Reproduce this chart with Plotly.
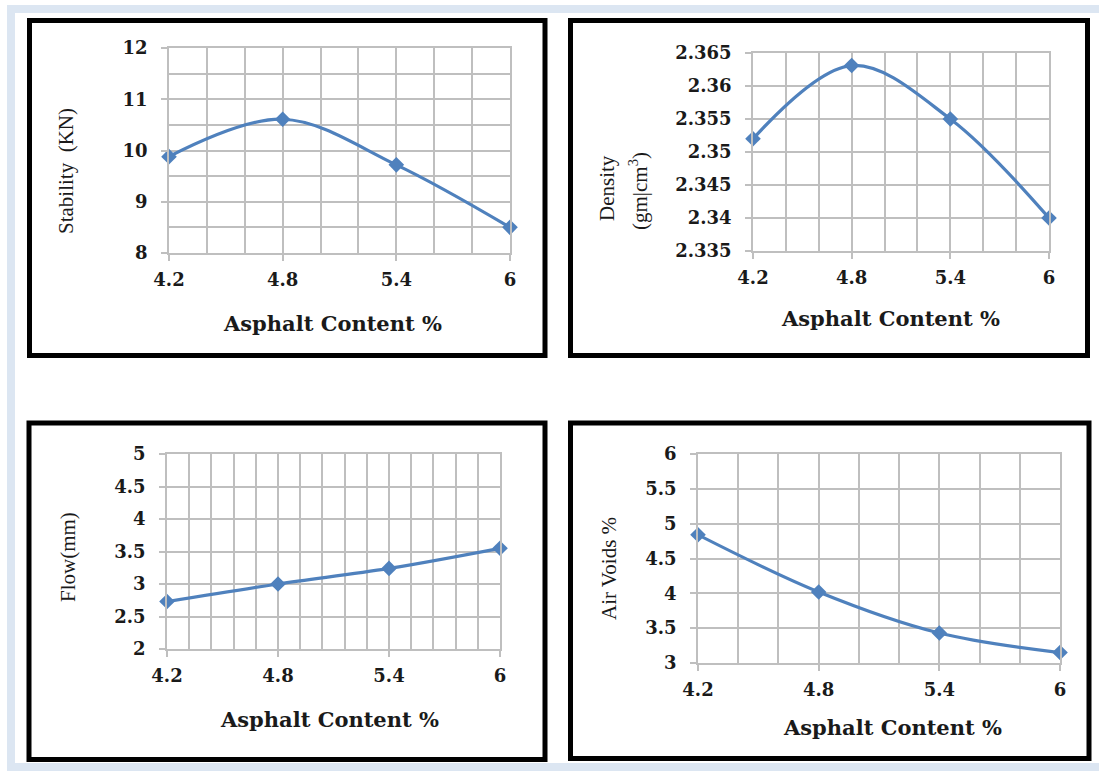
import plotly.graph_objects as go

# ---------------- data ----------------
asphalt = [4.2, 4.8, 5.4, 6.0]
x_tick_vals = [4.2, 4.8, 5.4, 6.0]
x_tick_text = ["4.2", "4.8", "5.4", "6"]

stability = [9.88, 10.61, 9.72, 8.50]
stab_ticks = [8, 9, 10, 11, 12]
stab_text = ["8", "9", "10", "11", "12"]

density = [2.352, 2.3631, 2.355, 2.340]
dens_ticks = [2.335, 2.34, 2.345, 2.35, 2.355, 2.36, 2.365]
dens_text = ["2.335", "2.34", "2.345", "2.35", "2.355", "2.36", "2.365"]

flow = [2.73, 3.00, 3.24, 3.55]
flow_ticks = [2, 2.5, 3, 3.5, 4, 4.5, 5]
flow_text = ["2", "2.5", "3", "3.5", "4", "4.5", "5"]

air_voids = [4.84, 4.02, 3.43, 3.15]
av_ticks = [3, 3.5, 4, 4.5, 5, 5.5, 6]
av_text = ["3", "3.5", "4", "4.5", "5", "5.5", "6"]

x_title = "Asphalt Content %"

# ---------------- styling ----------------
W, H = 1099, 771
LINE = "#4f81bd"
GRID = "#bfbfbf"
TXT = "#1a1a1a"
TICKFONT = dict(family="DejaVu Serif", size=18, color=TXT, weight="bold")


def px(x):
    return x / W


def py(y):
    return 1 - y / H


def xaxis(x0, x1, y0, y1, anchor, minor_dtick):
    return dict(
        domain=[px(x0), px(x1)], anchor=anchor, range=[4.2, 6.0],
        tickmode="array", tickvals=x_tick_vals, ticktext=x_tick_text,
        ticks="outside", ticklen=6, tickwidth=1.5, tickcolor=GRID,
        showgrid=True, gridcolor=GRID, gridwidth=1.5,
        showline=True, linecolor=GRID, linewidth=1.5, mirror=True,
        zeroline=False, tickfont=TICKFONT, ticklabelstandoff=4,
        automargin=False,
        minor=dict(tickmode="linear", tick0=4.2, dtick=minor_dtick,
                   showgrid=True, gridcolor=GRID, gridwidth=1.5, ticks=""),
        fixedrange=True,
    )


def yaxis(y0, y1, anchor, rng, vals, text, minor_dtick=None):
    d = dict(
        domain=[py(y1), py(y0)], anchor=anchor, range=rng,
        tickmode="array", tickvals=vals, ticktext=text,
        ticks="outside", ticklen=6, tickwidth=1.5, tickcolor=GRID,
        showgrid=True, gridcolor=GRID, gridwidth=1.5,
        showline=True, linecolor=GRID, linewidth=1.5, mirror=True,
        zeroline=False, tickfont=TICKFONT, ticklabelstandoff=10,
        automargin=False, fixedrange=True,
    )
    if minor_dtick:
        d["minor"] = dict(tickmode="linear", tick0=rng[0], dtick=minor_dtick,
                          showgrid=True, gridcolor=GRID, gridwidth=1.5, ticks="")
    return d


fig = go.Figure()

series = [(stability, "x", "y"), (density, "x2", "y2"),
          (flow, "x3", "y3"), (air_voids, "x4", "y4")]
for vals, xa, ya in series:
    fig.add_trace(go.Scatter(
        x=asphalt, y=vals, xaxis=xa, yaxis=ya, mode="lines+markers",
        line=dict(color=LINE, width=3.2, shape="spline", smoothing=1),
        marker=dict(symbol="diamond", size=12, color=LINE),
        cliponaxis=False, showlegend=False, hoverinfo="x+y",
    ))

# panel plot areas (pixel coords)
P1 = (169, 510, 48, 253)
P2 = (753, 1049, 53, 251)
P3 = (167, 500, 454, 649)
P4 = (698, 1060, 454, 663)

layout = dict(
    template="none",
    width=W, height=H,
    margin=dict(l=0, r=0, t=0, b=0, pad=0, autoexpand=False),
    paper_bgcolor="white", plot_bgcolor="rgba(0,0,0,0)",
    xaxis=xaxis(*P1, "y", 0.2),
    yaxis=yaxis(P1[2], P1[3], "x", [8, 12], stab_ticks, stab_text, 0.5),
    xaxis2=xaxis(*P2, "y2", 0.2),
    yaxis2=yaxis(P2[2], P2[3], "x2", [2.335, 2.365], dens_ticks, dens_text),
    xaxis3=xaxis(*P3, "y3", 0.12),
    yaxis3=yaxis(P3[2], P3[3], "x3", [2, 5], flow_ticks, flow_text),
    xaxis4=xaxis(*P4, "y4", 0.2),
    yaxis4=yaxis(P4[2], P4[3], "x4", [3, 6], av_ticks, av_text),
)
fig.update_layout(**layout)

# background frame + panel boxes
shapes = [
    dict(type="rect", xref="paper", yref="paper", x0=px(7), x1=px(W), y0=py(771), y1=py(5),
         fillcolor="#dce6f2", line=dict(width=0), layer="below"),
    dict(type="rect", xref="paper", yref="paper", x0=px(15), x1=px(W), y0=py(763), y1=py(13),
         fillcolor="white", line=dict(width=0), layer="below"),
]
boxes = [(29.5, 545, 20.5, 355.5), (570.5, 1087.5, 20.5, 355.5),
         (29, 545, 423, 759.5), (570.5, 1089, 423, 758.5)]
for x0, x1, y0, y1 in boxes:
    shapes.append(dict(type="rect", xref="paper", yref="paper",
                       x0=px(x0), x1=px(x1), y0=py(y1), y1=py(y0),
                       line=dict(color="black", width=5), fillcolor="rgba(0,0,0,0)",
                       layer="below"))
fig.update_layout(shapes=shapes)

# titles
XT_FONT = dict(family="DejaVu Serif", size=21, color=TXT, weight="bold")
YT_FONT = dict(family="Liberation Serif", size=21, color=TXT)
ann = []
for (x, y) in [(332, 323), (891, 318), (329, 719), (892, 727)]:
    ann.append(dict(text=x_title, x=px(x), y=py(y), xref="paper", yref="paper",
                    xanchor="center", yanchor="middle", showarrow=False, font=XT_FONT))
for (t, x, y) in [("Stability  (KN)", 66, 171), ("Density", 607, 188),
                  ("(gm|cm<sup>3</sup>)", 638, 191), ("Flow(mm)", 68, 557),
                  ("Air Voids %", 609, 569)]:
    ann.append(dict(text=t, x=px(x), y=py(y), xref="paper", yref="paper",
                    xanchor="center", yanchor="middle", textangle=-90,
                    showarrow=False, font=YT_FONT))
fig.update_layout(annotations=ann)

fig.write_html(
    "out.html",
    config={"displayModeBar": False},
    post_script="document.body.style.margin='0';document.body.style.overflow='hidden';",
)
